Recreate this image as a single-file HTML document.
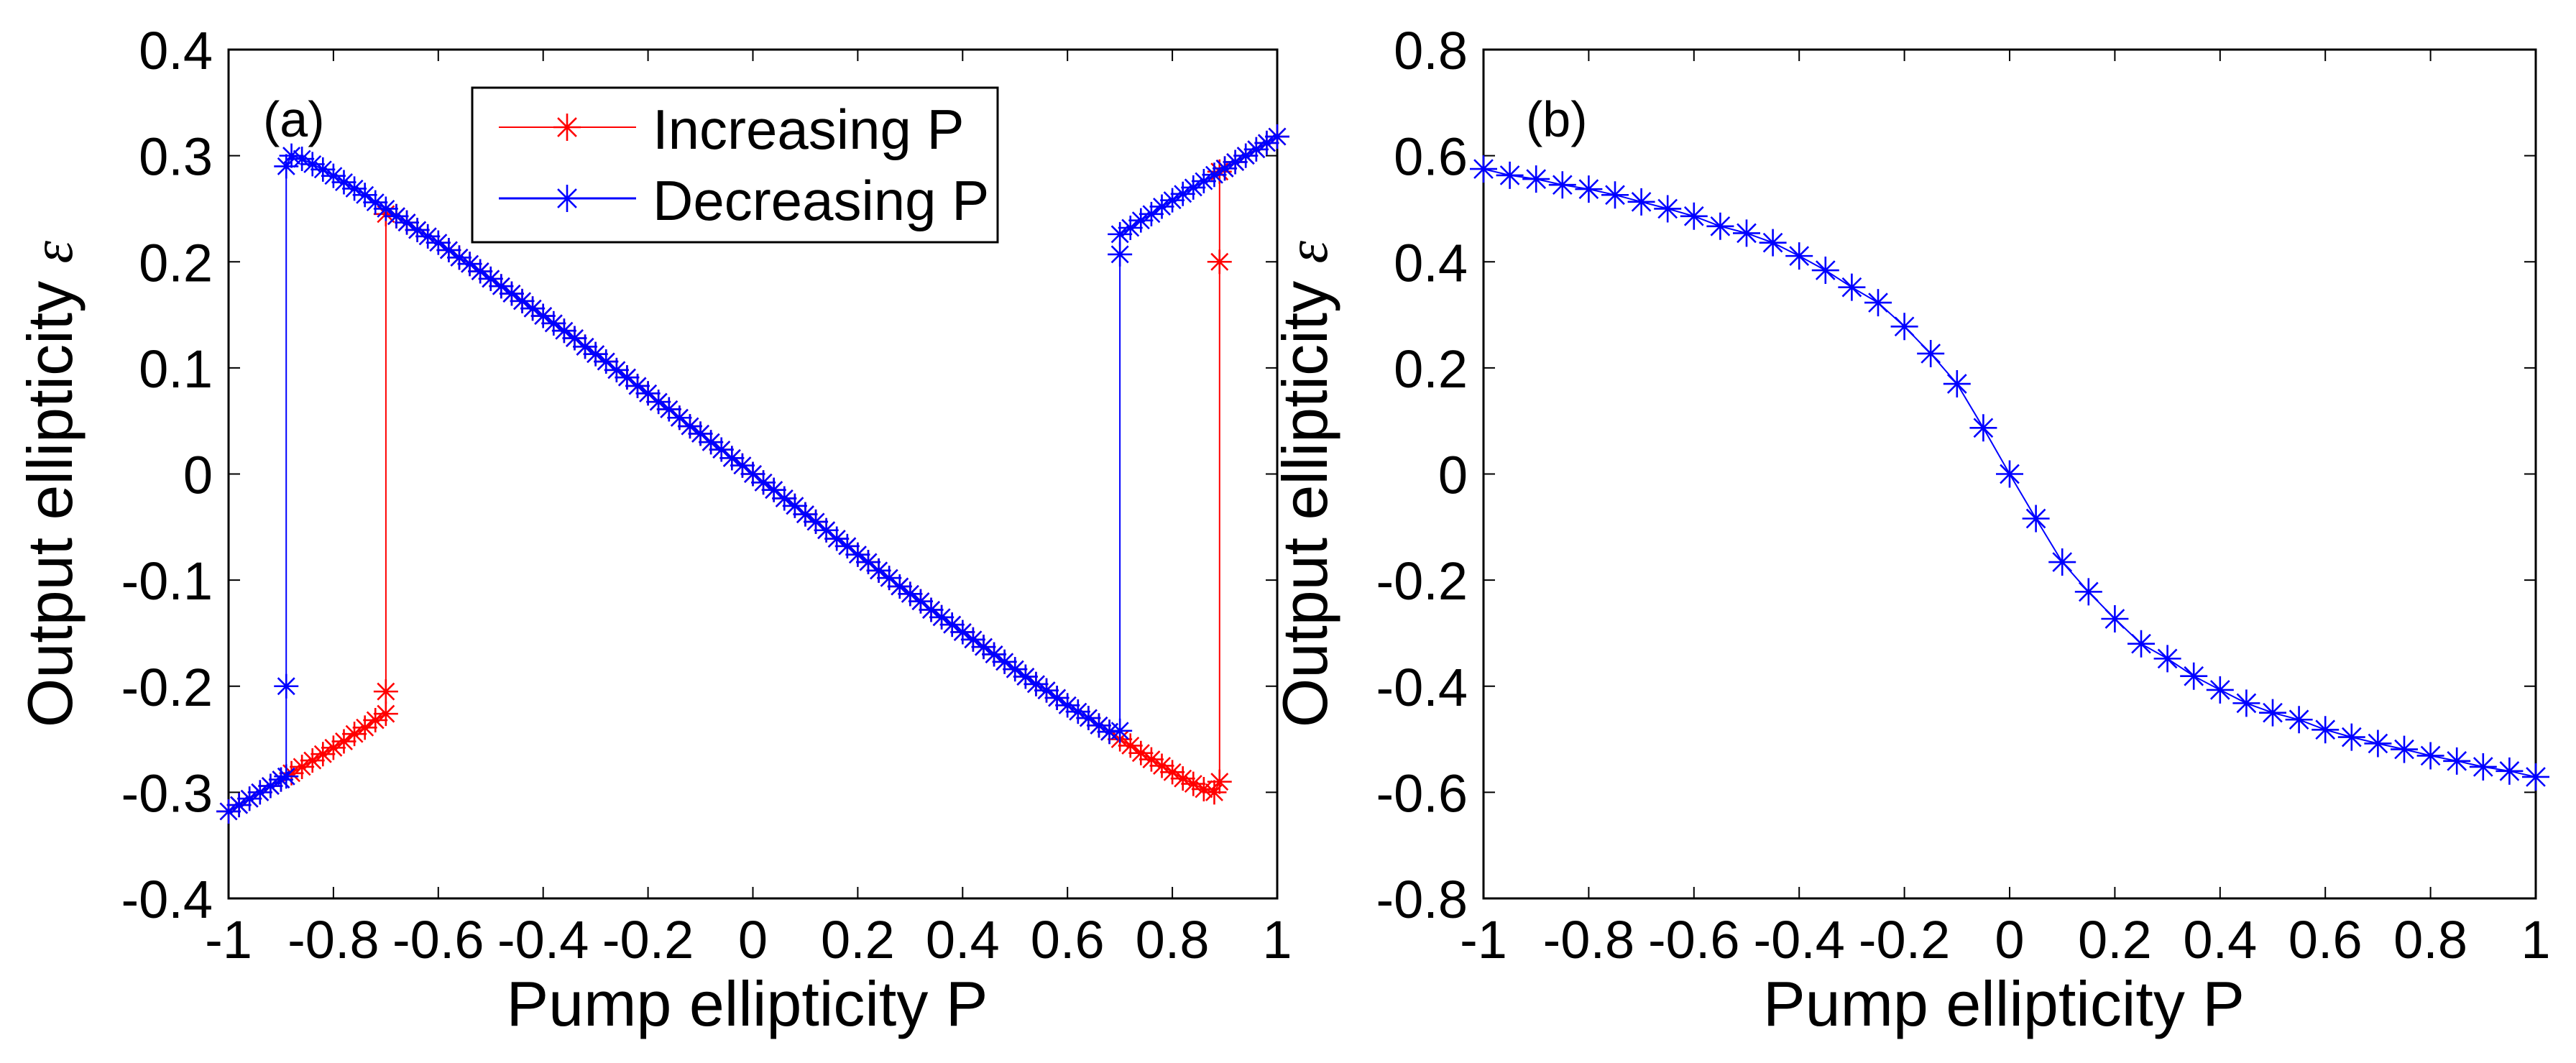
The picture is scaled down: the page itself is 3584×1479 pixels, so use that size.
<!DOCTYPE html>
<html><head><meta charset="utf-8"><style>
html,body{margin:0;padding:0;background:#fff;}
svg{display:block;font-family:"Liberation Sans",Arial,sans-serif;}
</style></head><body>
<svg id="fig" width="3584" height="1479" viewBox="0 0 3584 1479" xmlns="http://www.w3.org/2000/svg">
<rect x="0" y="0" width="3584" height="1479" fill="#fff"/>
<g id="pa"></g>
<g id="pb"></g>
</svg>
<script>
// ---------- Panel (a) data ----------
const aXTicks = [-1,-0.8,-0.6,-0.4,-0.2,0,0.2,0.4,0.6,0.8,1];
const aXTickLabels = ["-1","-0.8","-0.6","-0.4","-0.2","0","0.2","0.4","0.6","0.8","1"];
const aYTicks = [-0.4,-0.3,-0.2,-0.1,0,0.1,0.2,0.3,0.4];
const aYTickLabels = ["-0.4","-0.3","-0.2","-0.1","0","0.1","0.2","0.3","0.4"];
// Increasing P (red)
const incP = [-1,-0.98,-0.96,-0.94,-0.92,-0.9,-0.88,-0.86,-0.84,-0.82,-0.8,-0.78,-0.76,-0.74,-0.72,-0.7,-0.7,-0.7,
 -0.68,-0.66,-0.64,-0.62,-0.6,-0.58,-0.56,-0.54,-0.52,-0.5,-0.48,-0.46,-0.44,-0.42,-0.4,-0.38,-0.36,-0.34,-0.32,-0.3,-0.28,-0.26,-0.24,-0.22,-0.2,-0.18,-0.16,-0.14,-0.12,-0.1,-0.08,-0.06,-0.04,-0.02,0,
 0.02,0.04,0.06,0.08,0.1,0.12,0.14,0.16,0.18,0.2,0.22,0.24,0.26,0.28,0.3,0.32,0.34,0.36,0.38,0.4,0.42,0.44,0.46,0.48,0.5,0.52,0.54,0.56,0.58,0.6,0.62,0.64,0.66,0.68,0.7,0.72,0.74,0.76,0.78,0.8,0.82,0.84,0.86,0.88,
 0.89,0.89,0.89,0.9,0.92,0.94,0.96,0.98,1];
const incE = [-0.318,-0.312,-0.306,-0.3,-0.294,-0.288,-0.282,-0.276,-0.27,-0.264,-0.258,-0.252,-0.245,-0.239,-0.232,-0.226,-0.205,0.245,
 0.243,0.237,0.23,0.224,0.218,0.211,0.204,0.198,0.191,0.184,0.177,0.17,0.163,0.156,0.149,0.142,0.135,0.128,0.12,0.113,0.106,0.098,0.091,0.083,0.076,0.068,0.061,0.053,0.045,0.038,0.03,0.023,0.015,0.008,0,
 -0.008,-0.015,-0.023,-0.03,-0.038,-0.045,-0.053,-0.061,-0.068,-0.076,-0.083,-0.091,-0.098,-0.106,-0.113,-0.12,-0.128,-0.135,-0.142,-0.149,-0.156,-0.163,-0.17,-0.177,-0.184,-0.191,-0.198,-0.204,-0.211,-0.218,-0.224,-0.23,-0.237,-0.243,-0.25,-0.256,-0.263,-0.269,-0.275,-0.281,-0.287,-0.292,-0.297,-0.3,
 -0.29,0.2,0.285,0.288,0.294,0.3,0.306,0.312,0.318];
// Decreasing P (blue)
const decP = [1,0.98,0.96,0.94,0.92,0.9,0.88,0.86,0.84,0.82,0.8,0.78,0.76,0.74,0.72,0.7,0.7,0.7,
 0.68,0.66,0.64,0.62,0.6,0.58,0.56,0.54,0.52,0.5,0.48,0.46,0.44,0.42,0.4,0.38,0.36,0.34,0.32,0.3,0.28,0.26,0.24,0.22,0.2,0.18,0.16,0.14,0.12,0.1,0.08,0.06,0.04,0.02,0,
 -0.02,-0.04,-0.06,-0.08,-0.1,-0.12,-0.14,-0.16,-0.18,-0.2,-0.22,-0.24,-0.26,-0.28,-0.3,-0.32,-0.34,-0.36,-0.38,-0.4,-0.42,-0.44,-0.46,-0.48,-0.5,-0.52,-0.54,-0.56,-0.58,-0.6,-0.62,-0.64,-0.66,-0.68,-0.7,-0.72,-0.74,-0.76,-0.78,-0.8,-0.82,-0.84,-0.86,-0.88,
 -0.89,-0.89,-0.89,-0.9,-0.92,-0.94,-0.96,-0.98,-1];
const decE = [0.318,0.312,0.306,0.3,0.294,0.288,0.282,0.276,0.27,0.264,0.258,0.252,0.245,0.239,0.232,0.226,0.207,-0.242,
 -0.243,-0.237,-0.23,-0.224,-0.218,-0.211,-0.204,-0.198,-0.191,-0.184,-0.177,-0.17,-0.163,-0.156,-0.149,-0.142,-0.135,-0.128,-0.12,-0.113,-0.106,-0.098,-0.091,-0.083,-0.076,-0.068,-0.061,-0.053,-0.045,-0.038,-0.03,-0.023,-0.015,-0.008,0,
 0.008,0.015,0.023,0.03,0.038,0.045,0.053,0.061,0.068,0.076,0.083,0.091,0.098,0.106,0.113,0.12,0.128,0.135,0.142,0.149,0.156,0.163,0.17,0.177,0.184,0.191,0.198,0.204,0.211,0.218,0.224,0.23,0.237,0.243,0.25,0.256,0.263,0.269,0.275,0.281,0.287,0.292,0.297,0.3,
 0.29,-0.2,-0.285,-0.288,-0.294,-0.3,-0.306,-0.312,-0.318];

// ---------- Panel (b) data ----------
const bXTicks = [-1,-0.8,-0.6,-0.4,-0.2,0,0.2,0.4,0.6,0.8,1];
const bXTickLabels = ["-1","-0.8","-0.6","-0.4","-0.2","0","0.2","0.4","0.6","0.8","1"];
const bYTicks = [-0.8,-0.6,-0.4,-0.2,0,0.2,0.4,0.6,0.8];
const bYTickLabels = ["-0.8","-0.6","-0.4","-0.2","0","0.2","0.4","0.6","0.8"];
const bP = [-1,-0.95,-0.9,-0.85,-0.8,-0.75,-0.7,-0.65,-0.6,-0.55,-0.5,-0.45,-0.4,-0.35,-0.3,-0.25,-0.2,-0.15,-0.1,-0.05,0,
 0.05,0.1,0.15,0.2,0.25,0.3,0.35,0.4,0.45,0.5,0.55,0.6,0.65,0.7,0.75,0.8,0.85,0.9,0.95,1];
const bE = [0.575,0.563,0.556,0.545,0.537,0.526,0.513,0.5,0.486,0.467,0.454,0.436,0.411,0.384,0.352,0.323,0.278,0.227,0.17,0.087,0,
 -0.084,-0.166,-0.222,-0.273,-0.32,-0.348,-0.381,-0.407,-0.432,-0.45,-0.463,-0.482,-0.496,-0.508,-0.519,-0.531,-0.541,-0.552,-0.56,-0.571];

const NS = "http://www.w3.org/2000/svg";
function mk(tag, attrs, parent){
  const e = document.createElementNS(NS, tag);
  for (const k in attrs) e.setAttribute(k, attrs[k]);
  parent.appendChild(e);
  return e;
}
function scaleLin(d0,d1,r0,r1){ return v => r0 + (v-d0)/(d1-d0)*(r1-r0); }

function marker(g, x, y, color, r){
  const d = r*0.68;
  const p = `M${x-r},${y}H${x+r}M${x},${y-r}V${y+r}M${x-d},${y-d}L${x+d},${y+d}M${x-d},${y+d}L${x+d},${y-d}`;
  const m = mk("path", {d:p, stroke:color, "stroke-width":2.6, fill:"none"}, g);
  
  
}

function drawAxes(g, L, T, R, B, xs, ys, xT, xTL, yT, yTL, panelLabel, plx){
  const frame = mk("rect", {x:L, y:T, width:R-L, height:B-T, fill:"none", stroke:"#000", "stroke-width":3}, g);
  
  
  const tl = 16;
  xT.forEach((v,i)=>{
    const x = xs(v);
    const t = mk("path", {d:`M${x},${B}V${B-tl}M${x},${T}V${T+tl}`, stroke:"#000", "stroke-width":2}, g);
    
    
    const lb = mk("text", {x:x, y:1333, "font-size":74, "text-anchor":"middle", fill:"#000"}, g);
    lb.textContent = xTL[i];
    
    
  });
  yT.forEach((v,i)=>{
    const y = ys(v);
    const t = mk("path", {d:`M${L},${y}H${L+tl}M${R},${y}H${R-tl}`, stroke:"#000", "stroke-width":2}, g);
    
    
    const lb = mk("text", {x:L-22, y:y+27, "font-size":74, "text-anchor":"end", fill:"#000"}, g);
    lb.textContent = yTL[i];
    
    
  });
  const xt = mk("text", {x:(L+R)/2-8, y:1427, "font-size":88, "text-anchor":"middle", fill:"#000"}, g);
  xt.textContent = "Pump ellipticity P";
  
  
  const yt = mk("text", {x:0, y:0, "font-size":88, "text-anchor":"middle", fill:"#000",
     transform:`translate(${L-218},${(T+B)/2+14}) rotate(-90)`}, g);
  yt.textContent = "Output ellipticity ";
  const eps = mk("tspan", {"font-family":"Liberation Serif, serif", "font-style":"italic", "font-size":80}, yt);
  eps.textContent = "ε";
  
  
  const pl = mk("text", {x:plx, y:190, "font-size":70, fill:"#000"}, g);
  pl.textContent = panelLabel;
  
  
}

function drawSeries(g, P, E, xs, ys, color, lw, r, name){
  const sg = mk("g", {}, g);
  
  
  const pts = P.map((p,i)=>`${xs(p).toFixed(1)},${ys(E[i]).toFixed(1)}`).join(" ");
  const ln = mk("polyline", {points:pts, fill:"none", stroke:color, "stroke-width":lw}, sg);
  
  
  P.forEach((p,i)=> marker(sg, xs(p), ys(E[i]), color, r));
}

// Panel (a)
(function(){
  const g = document.getElementById("pa");
  const L=318, R=1777, T=69, B=1250;
  const xs = scaleLin(-1,1,L,R), ys = scaleLin(-0.4,0.4,B,T);
  drawAxes(g,L,T,R,B,xs,ys,aXTicks,aXTickLabels,aYTicks,aYTickLabels,"(a)",366);
  drawSeries(g, incP, incE, xs, ys, "#ff0000", 2, 17, "increasing-p-series");
  drawSeries(g, decP, decE, xs, ys, "#0000ff", 2, 17, "decreasing-p-series");
  // legend
  const lg = mk("g", {}, g);
  
  
  const box = mk("rect", {x:657, y:122, width:731, height:215, fill:"#fff", stroke:"#000", "stroke-width":3}, lg);
  
  
  const entries = [["Increasing P","#ff0000",177],["Decreasing P","#0000ff",276]];
  entries.forEach(e=>{
    const eg = mk("g", {}, lg);
    
    
    mk("line", {x1:694, x2:885, y1:e[2], y2:e[2], stroke:e[1], "stroke-width":e[1]=="#0000ff"?3:2}, eg);
    marker(eg, 789, e[2], e[1], 19);
    const t = mk("text", {x:908, y:e[2]+30, "font-size":78, fill:"#000"}, eg);
    t.textContent = e[0];
  });
})();

// Panel (b)
(function(){
  const g = document.getElementById("pb");
  const L=2064, R=3528, T=69, B=1250;
  const xs = scaleLin(-1,1,L,R), ys = scaleLin(-0.8,0.8,B,T);
  drawAxes(g,L,T,R,B,xs,ys,bXTicks,bXTickLabels,bYTicks,bYTickLabels,"(b)",2123);
  drawSeries(g, bP, bE, xs, ys, "#0000ff", 2, 19, "output-ellipticity-series");
})();
</script>
</body></html>
